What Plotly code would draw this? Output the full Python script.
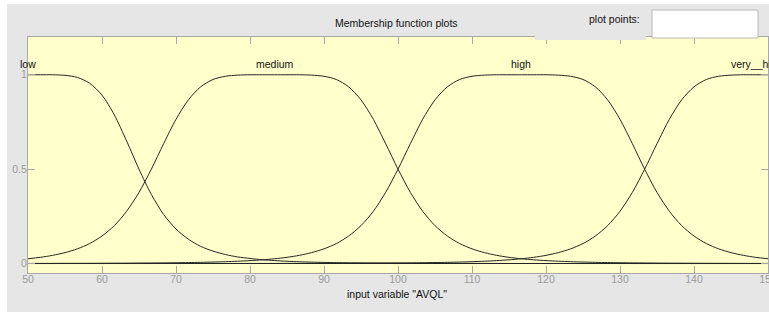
import plotly.graph_objects as go

# sample positions along the input variable "AVQL"
x_vals = [50, 51.67, 53.33, 55, 56.67, 58.33, 60, 61.67, 63.33, 65,
          66.67, 68.33, 70, 71.67, 73.33, 75, 76.67, 78.33, 80, 81.67,
          83.33, 85, 86.67, 88.33, 90, 91.67, 93.33, 95, 96.67, 98.33,
          100, 101.67, 103.33, 105, 106.67, 108.33, 110, 111.67, 113.33, 115,
          116.67, 118.33, 120, 121.67, 123.33, 125, 126.67, 128.33, 130, 131.67,
          133.33, 135, 136.67, 138.33, 140, 141.67, 143.33, 145, 146.67, 148.33,
          150]

low = [1.000, 1.000, 1.000, 0.997, 0.986, 0.955, 0.892, 0.787, 0.649, 0.500,
       0.366, 0.260, 0.183, 0.129, 0.091, 0.066, 0.048, 0.035, 0.027, 0.020,
       0.016, 0.012, 0.0095, 0.0075, 0.0061, 0.0049, 0.0040, 0.0033, 0.0027, 0.0023,
       0.0019, 0.0016, 0.0014, 0.0012, 0.0010, 0.0009, 0.0008, 0.0007, 0.0006, 0.0005,
       0.0004, 0.0004, 0.0003, 0.0003, 0.0003, 0.0002, 0.0002, 0.0002, 0.0002, 0.0001,
       0.0001, 0.0001, 0.0001, 0.0001, 0.0001, 0.0001, 0.0001, 0.0001, 0.0001, 0.0001,
       0.0001]

medium = [0.0254, 0.033, 0.0435, 0.058, 0.078, 0.106, 0.146, 0.201, 0.277, 0.377,
          0.500, 0.635, 0.764, 0.867, 0.936, 0.975, 0.992, 0.998, 1.000, 1.000,
          1.000, 1.000, 1.000, 0.998, 0.992, 0.975, 0.936, 0.867, 0.764, 0.635,
          0.500, 0.377, 0.277, 0.201, 0.146, 0.106, 0.078, 0.058, 0.0435, 0.033,
          0.0254, 0.0198, 0.0156, 0.0124, 0.0099, 0.0080, 0.0065, 0.0054, 0.0044, 0.0037,
          0.0031, 0.0027, 0.0023, 0.0020, 0.0017, 0.0014, 0.0012, 0.0011, 0.0009, 0.0008,
          0.0007]

high = [0.0007, 0.0008, 0.0009, 0.0011, 0.0012, 0.0014, 0.0017, 0.0020, 0.0023, 0.0027,
        0.0031, 0.0037, 0.0044, 0.0054, 0.0065, 0.0080, 0.0099, 0.0124, 0.0156, 0.0198,
        0.0254, 0.033, 0.0435, 0.058, 0.078, 0.106, 0.146, 0.201, 0.277, 0.377,
        0.500, 0.635, 0.764, 0.867, 0.936, 0.975, 0.992, 0.998, 1.000, 1.000,
        1.000, 1.000, 1.000, 0.998, 0.992, 0.975, 0.936, 0.867, 0.764, 0.635,
        0.500, 0.377, 0.277, 0.201, 0.146, 0.106, 0.078, 0.058, 0.0435, 0.033,
        0.0254]

very_high = [0.0001, 0.0001, 0.0001, 0.0002, 0.0002, 0.0002, 0.0002, 0.0002, 0.0002, 0.0002,
             0.0002, 0.0003, 0.0003, 0.0003, 0.0004, 0.0004, 0.0005, 0.0005, 0.0006, 0.0006,
             0.0007, 0.0008, 0.0009, 0.0011, 0.0012, 0.0014, 0.0017, 0.0020, 0.0023, 0.0027,
             0.0031, 0.0037, 0.0044, 0.0054, 0.0065, 0.0080, 0.0099, 0.0124, 0.0156, 0.0198,
             0.0254, 0.033, 0.0435, 0.058, 0.078, 0.106, 0.146, 0.201, 0.277, 0.377,
             0.500, 0.635, 0.764, 0.867, 0.936, 0.975, 0.992, 0.998, 1.000, 1.000,
             1.000]

mf_names = ["low", "medium", "high", "very__high"]
mf_label_x = [50, 83.33, 116.67, 148.5]
x_ticks = [50, 60, 70, 80, 90, 100, 110, 120, 130, 140, 150]
y_ticks = [0, 0.5, 1]
y_tick_text = ["0", "0.5", "1"]

FONT = "Liberation Sans, Arial, sans-serif"
GRAY_BG = "#e6e6e6"
AXIS_GRAY = "#a8a8a8"

fig = go.Figure()
for name, ys in zip(mf_names, [low, medium, high, very_high]):
    fig.add_trace(go.Scatter(x=x_vals, y=ys, mode="lines", name=name,
                             line=dict(color="#262626", width=1, shape="spline", smoothing=0.8),
                             hoverinfo="skip"))

# MF labels above the curves
for name, px in zip(mf_names, mf_label_x):
    fig.add_annotation(x=px, y=1.057, xref="x", yref="y", text=name, showarrow=False,
                       xanchor="center", yanchor="middle",
                       font=dict(family=FONT, size=10.5, color="#111111"))

# plot-area geometry in pixels: x 28..768, y 37..273
W, H = 769, 312
L, R, T, B = 28, 1, 37, 39
PW, PH = W - L - R, H - T - B

def px_x(p):
    return (p - L) / PW

def px_y(p):
    return (H - B - p) / PH

fig.add_annotation(x=px_x(396), y=px_y(23), xref="paper", yref="paper",
                   text="Membership function plots", showarrow=False,
                   xanchor="center", yanchor="middle",
                   font=dict(family=FONT, size=10.5, color="#111111"))
fig.add_annotation(x=px_x(642), y=px_y(19), xref="paper", yref="paper",
                   text="plot points:", showarrow=False,
                   xanchor="right", yanchor="middle",
                   font=dict(family=FONT, size=10.5, color="#111111"))
fig.add_annotation(x=px_x(397), y=px_y(294), xref="paper", yref="paper",
                   text='input variable "AVQL"', showarrow=False,
                   xanchor="center", yanchor="middle",
                   font=dict(family=FONT, size=10.5, color="#111111"))

shapes = [
    # gray panel behind "plot points:"
    dict(type="rect", xref="paper", yref="paper", x0=px_x(535), x1=px_x(646),
         y0=px_y(40), y1=px_y(4), fillcolor=GRAY_BG, line=dict(width=0), layer="above"),
    # white edit box
    dict(type="rect", xref="paper", yref="paper", x0=px_x(652), x1=px_x(758),
         y0=px_y(38), y1=px_y(10), fillcolor="#ffffff",
         line=dict(color="#b8b8b8", width=1), layer="above"),
    # thin white borders of the window
    dict(type="rect", xref="paper", yref="paper", x0=px_x(0), x1=px_x(7),
         y0=px_y(312), y1=px_y(0), fillcolor="#ffffff", line=dict(width=0), layer="above"),
    dict(type="rect", xref="paper", yref="paper", x0=px_x(0), x1=px_x(769),
         y0=px_y(4), y1=px_y(0), fillcolor="#ffffff", line=dict(width=0), layer="above"),
]

fig.update_layout(
    width=W, height=H,
    margin=dict(l=L, r=R, t=T, b=B, pad=0, autoexpand=False),
    paper_bgcolor=GRAY_BG,
    plot_bgcolor="#ffffcc",
    showlegend=False,
    shapes=shapes,
    font=dict(family=FONT, size=10.5, color="#999999"),
)
fig.update_xaxes(range=[50, 150], tickvals=x_ticks, ticks="inside", ticklen=7,
                 tickcolor=AXIS_GRAY, showline=True, linecolor=AXIS_GRAY, linewidth=1,
                 mirror="ticks", showgrid=False, zeroline=False, automargin=False,
                 ticklabelstandoff=-4, ticklabeloverflow="allow",
                 tickfont=dict(family=FONT, size=10.5, color="#9a9a9a"))
fig.update_yaxes(range=[-0.05, 1.2], tickvals=y_ticks, ticktext=y_tick_text,
                 ticks="inside", ticklen=7, tickcolor=AXIS_GRAY, showline=True,
                 linecolor=AXIS_GRAY, linewidth=1, mirror="ticks", showgrid=False,
                 zeroline=True, zerolinecolor="#111111", zerolinewidth=1, automargin=False,
                 ticklabelstandoff=-2,
                 tickfont=dict(family=FONT, size=10.5, color="#9a9a9a"))

fig.write_html("out.html", config={"displayModeBar": False},
               post_script="document.body.style.margin='0';document.body.style.padding='0';")
